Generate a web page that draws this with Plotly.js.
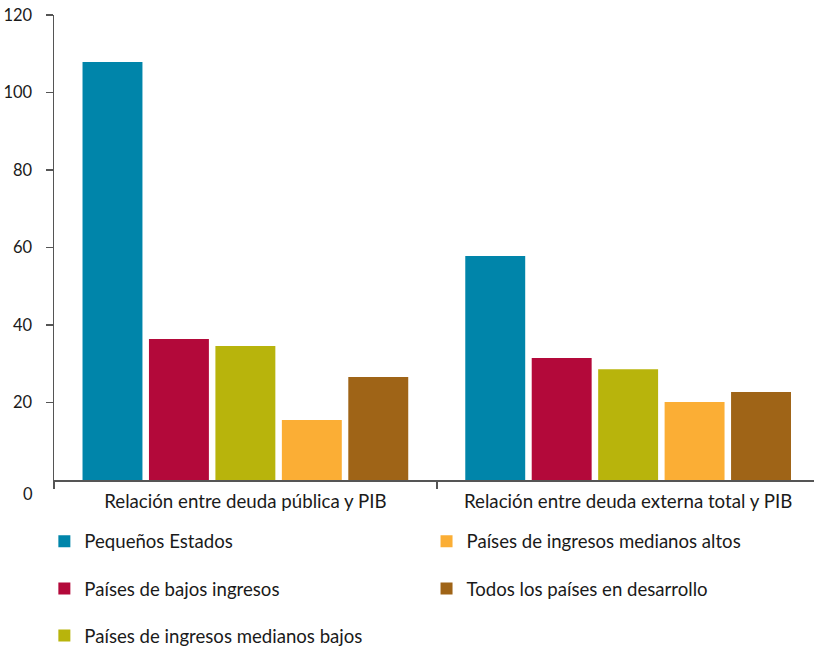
<!DOCTYPE html>
<html>
<head>
<meta charset="utf-8">
<script src="https://cdn.plot.ly/plotly-3.0.1.min.js"></script>
<style>html,body{margin:0;padding:0;background:#fff;overflow:hidden}#chart{width:814px;height:646px}</style>
</head>
<body>
<div id="chart"></div>
<script>
const categories = ["Relación entre deuda pública y PIB", "Relación entre deuda externa total y PIB"];
const seriesNames = ["Pequeños Estados", "Países de bajos ingresos", "Países de ingresos medianos bajos", "Países de ingresos medianos altos", "Todos los países en desarrollo"];
const pequenosEstados = [107.9, 57.8];
const bajosIngresos = [36.4, 31.5];
const medianosBajos = [34.6, 28.6];
const medianosAltos = [15.5, 20.1];
const todosDesarrollo = [26.6, 22.7];
const yTickVals = [20, 40, 60, 80, 100, 120];

const values = [pequenosEstados, bajosIngresos, medianosBajos, medianosAltos, todosDesarrollo];
const colors = ["#0085AA", "#B3093A", "#B8B40C", "#FBAE35", "#9F6417"];
const legendIds = ["legend", "legend", "legend", "legend2", "legend2"];
const FONT = "Lato, 'Open Sans', sans-serif";

const data = values.map((v, i) => ({
  type: "bar",
  x: categories,
  y: v,
  name: seriesNames[i],
  marker: {color: colors[i]},
  legend: legendIds[i],
  legendgroup: "g" + i,
  hoverinfo: "skip"
}));

const legendCommon = {
  xref: "container", yref: "container",
  xanchor: "left", yanchor: "top",
  orientation: "v",
  font: {family: FONT, size: 18.6, color: "#1a1a1a"},
  bgcolor: "rgba(0,0,0,0)",
  tracegroupgap: 20,
  itemclick: false, itemdoubleclick: false
};

const layout = {
  width: 814, height: 646,
  margin: {l: 53.5, r: 0, t: 15, b: 166, autoexpand: false},
  paper_bgcolor: "#fff", plot_bgcolor: "#fff",
  font: {family: FONT, size: 17, color: "#1a1a1a"},
  barmode: "group",
  bargap: 0.132,
  bargroupgap: 0.098,
  showlegend: true,
  legend: Object.assign({}, legendCommon, {x: 0.0545, y: 0.191}),
  legend2: Object.assign({}, legendCommon, {x: 0.524, y: 0.191}),
  xaxis: {
    type: "category",
    range: [-0.5, 1.4856],
    automargin: false,
    showline: true, linecolor: "#555", linewidth: 1.5,
    ticks: "outside", ticklen: 7, tickwidth: 1.5, tickcolor: "#555",
    tickson: "boundaries",
    tickangle: 0,
    ticklabelstandoff: 4,
    showgrid: false, zeroline: false,
    tickfont: {family: FONT, size: 18.7, color: "#1a1a1a"}
  },
  yaxis: {
    range: [0, 120],
    automargin: false,
    tickvals: yTickVals,
    showline: true, linecolor: "#555", linewidth: 1.5,
    ticks: "outside", ticklen: 7, tickwidth: 1.5, tickcolor: "#555",
    ticklabelstandoff: 10,
    showgrid: false, zeroline: false,
    tickfont: {family: FONT, size: 16.5, color: "#1a1a1a"}
  },
  annotations: [{
    xref: "paper", yref: "y", x: 0, y: 0,
    xanchor: "right", yanchor: "middle",
    xshift: -19, yshift: -14,
    text: "0", showarrow: false,
    font: {family: FONT, size: 16.5, color: "#1a1a1a"}
  }]
};

Plotly.newPlot("chart", data, layout, {staticPlot: true, displayModeBar: false});
</script>
</body>
</html>
